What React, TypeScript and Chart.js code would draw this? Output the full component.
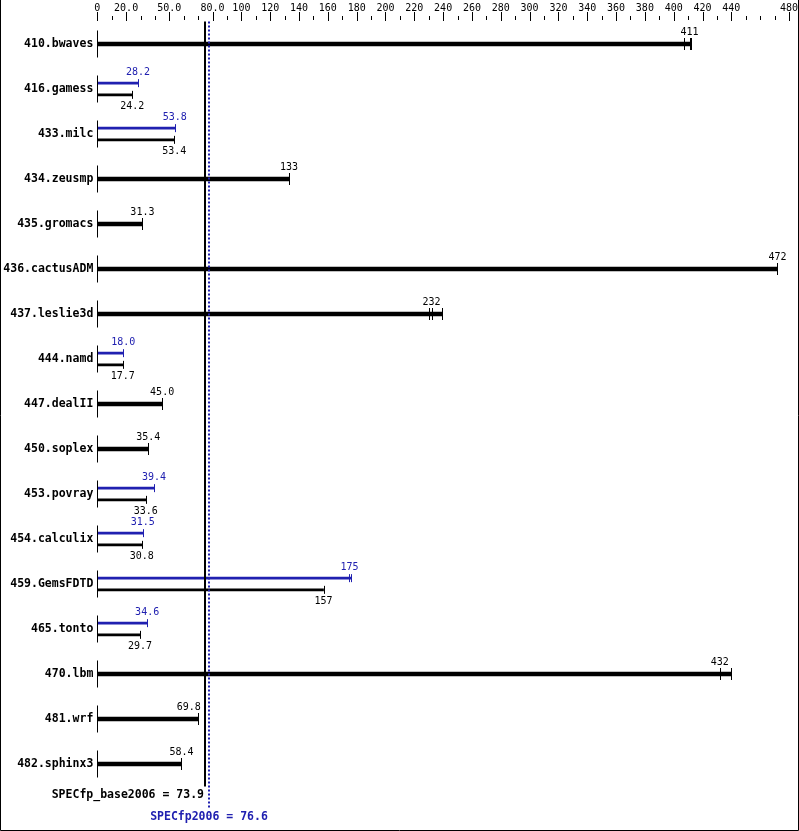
import { useEffect, useRef } from 'react';
import { Chart, registerables } from 'chart.js';

Chart.register(...registerables);

const benchmarks = [
  '410.bwaves', '416.gamess', '433.milc', '434.zeusmp', '435.gromacs', '436.cactusADM',
  '437.leslie3d', '444.namd', '447.dealII', '450.soplex', '453.povray', '454.calculix',
  '459.GemsFDTD', '465.tonto', '470.lbm', '481.wrf', '482.sphinx3',
];
const baseScores = [411, 24.2, 53.4, 133, 31.3, 472, 232, 17.7, 45.0, 35.4, 33.6, 30.8, 157, 29.7, 432, 69.8, 58.4];
const peakScores: (number | null)[] = [null, 28.2, 53.8, null, null, null, null, 18.0, null, null, 39.4, 31.5, 175, 34.6, null, null, null];
const baseRuns: number[][] = [
  [407, 411, 412], [24.2], [53.4], [133], [31.3], [472], [230, 232, 239], [17.7], [45.0],
  [35.4], [33.6], [30.8], [157], [29.7], [432, 440], [69.8], [58.4],
];
const peakRuns: (number[] | null)[] = [
  null, [28.2], [53.8], null, null, null, null, [18.0], null, null, [39.4], [31.5], [175, 176], [34.6], null, null, null,
];
const xLabeledValues = [0, 20, 50, 80, 100, 120, 140, 160, 180, 200, 220, 240, 260, 280, 300, 320, 340, 360, 380, 400, 420, 440, 480];
const xTickLabels = ['0', '20.0', '50.0', '80.0', '100', '120', '140', '160', '180', '200', '220', '240', '260', '280', '300', '320', '340', '360', '380', '400', '420', '440', '480'];
const xTickStep = 10;
const xMax = 480;
const specBase = 73.9;
const specPeak = 76.6;

const BLUE = '#2020b0';
const MONO = '"DejaVu Sans Mono", "Liberation Mono", monospace';
const PAIR_OFFSET = 0.13;

const fmt = (v: number) => (v >= 100 ? String(Math.round(v)) : v.toFixed(1));

export default function App() {
  const ref = useRef<HTMLCanvasElement | null>(null);

  useEffect(() => {
    if (!ref.current) return;

    const singleData: { x: number; y: number }[] = [];
    const peakData: { x: number; y: number }[] = [];
    const basePairData: { x: number; y: number }[] = [];
    benchmarks.forEach((_, i) => {
      const bMax = Math.max(...baseRuns[i]);
      const pr = peakRuns[i];
      if (pr && peakScores[i] != null) {
        peakData.push({ x: Math.max(...pr), y: i - PAIR_OFFSET });
        basePairData.push({ x: bMax, y: i + PAIR_OFFSET });
      } else {
        singleData.push({ x: bMax, y: i });
      }
    });

    const overlay = {
      id: 'specOverlay',
      afterDatasetsDraw(chart: any) {
        const ctx = chart.ctx as CanvasRenderingContext2D;
        const xs = chart.scales.x;
        const ys = chart.scales.y;
        const area = chart.chartArea;
        ctx.save();

        // x-axis tick marks
        ctx.strokeStyle = '#000';
        ctx.lineWidth = 1;
        for (let v = 0; v <= xMax; v += xTickStep) {
          const px = Math.round(xs.getPixelForValue(v)) + 0.5;
          const long = xLabeledValues.includes(v);
          ctx.beginPath();
          ctx.moveTo(px, long ? 12 : 16);
          ctx.lineTo(px, long ? 21 : 20);
          ctx.stroke();
        }

        const x0 = Math.round(xs.getPixelForValue(0)) + 0.5;
        const xBase = xs.getPixelForValue(specBase);
        const xPeak = xs.getPixelForValue(specPeak);

        const drawCaps = (runs: number[], y: number, half: number, color: string) => {
          ctx.strokeStyle = color;
          ctx.lineWidth = 1;
          runs.forEach((r) => {
            const px = Math.round(xs.getPixelForValue(r)) + 0.5;
            ctx.beginPath();
            ctx.moveTo(px, y - half);
            ctx.lineTo(px, y + half);
            ctx.stroke();
          });
        };

        const drawLabel = (v: number, y: number, color: string) => {
          ctx.font = `10px ${MONO}`;
          ctx.fillStyle = color;
          ctx.textBaseline = 'middle';
          const text = fmt(v);
          const w = ctx.measureText(text).width;
          const cx = xs.getPixelForValue(v);
          let left = cx - w / 2;
          let right = cx + w / 2;
          if (right > xBase - 2 && left < xPeak + 2) {
            right = xBase - 3;
            left = right - w;
          }
          ctx.textAlign = 'left';
          ctx.fillText(text, left, y);
        };

        benchmarks.forEach((_, i) => {
          const yc = ys.getPixelForValue(i);
          ctx.strokeStyle = '#000';
          ctx.lineWidth = 1;
          ctx.beginPath();
          ctx.moveTo(x0, yc - 13.5);
          ctx.lineTo(x0, yc + 13.5);
          ctx.stroke();

          const pr = peakRuns[i];
          const ps = peakScores[i];
          if (pr && ps != null) {
            const yp = ys.getPixelForValue(i - PAIR_OFFSET);
            const yb = ys.getPixelForValue(i + PAIR_OFFSET);
            drawCaps(pr, yp, 4, BLUE);
            drawCaps(baseRuns[i], yb, 4, '#000');
            drawLabel(ps, yp - 11, BLUE);
            drawLabel(baseScores[i], yb + 12, '#000');
          } else {
            drawCaps(baseRuns[i], yc, 6, '#000');
            drawLabel(baseScores[i], yc - 12, '#000');
          }
        });

        // summary lines
        ctx.strokeStyle = '#000';
        ctx.lineWidth = 2;
        ctx.beginPath();
        ctx.moveTo(Math.round(xBase) + 1, area.top);
        ctx.lineTo(Math.round(xBase) + 1, area.bottom);
        ctx.stroke();

        ctx.strokeStyle = BLUE;
        ctx.setLineDash([2, 2]);
        ctx.beginPath();
        ctx.moveTo(Math.round(xPeak) + 1, area.top);
        ctx.lineTo(Math.round(xPeak) + 1, area.bottom + 21);
        ctx.stroke();
        ctx.setLineDash([]);

        ctx.font = `bold 11.5px ${MONO}`;
        ctx.textBaseline = 'middle';
        ctx.fillStyle = '#000';
        ctx.textAlign = 'right';
        ctx.fillText(`SPECfp_base2006 = ${specBase.toFixed(1)}`, Math.round(xBase), area.bottom + 9);
        ctx.fillStyle = BLUE;
        ctx.textAlign = 'center';
        ctx.fillText(`SPECfp2006 = ${specPeak.toFixed(1)}`, Math.round(xPeak) + 1, area.bottom + 31);

        // frame
        ctx.strokeStyle = '#000';
        ctx.lineWidth = 1;
        ctx.beginPath();
        ctx.moveTo(0.5, 0);
        ctx.lineTo(0.5, chart.height - 0.5);
        ctx.lineTo(chart.width - 0.5, chart.height - 0.5);
        ctx.lineTo(chart.width - 0.5, 0);
        ctx.stroke();

        ctx.restore();
      },
    };

    const chart = new Chart(ref.current, {
      type: 'bar',
      data: {
        datasets: [
          { label: 'base', data: singleData as any, backgroundColor: '#000', barThickness: 4, grouped: false, borderWidth: 0 } as any,
          { label: 'peak', data: peakData as any, backgroundColor: BLUE, barThickness: 2, grouped: false, borderWidth: 0 } as any,
          { label: 'base2', data: basePairData as any, backgroundColor: '#000', barThickness: 2, grouped: false, borderWidth: 0 } as any,
        ],
      },
      options: {
        indexAxis: 'y',
        responsive: false,
        animation: false,
        events: [],
        layout: { padding: { left: 0, right: 4, top: 0, bottom: 44.5 } },
        plugins: { legend: { display: false }, tooltip: { enabled: false } },
        scales: {
          x: {
            type: 'linear',
            position: 'top',
            min: 0,
            max: xMax,
            offset: false,
            grid: { display: false, drawTicks: true, tickLength: 6 },
            border: { display: false },
            afterBuildTicks: (scale: any) => {
              const t = [];
              for (let v = 0; v <= xMax; v += xTickStep) t.push({ value: v });
              scale.ticks = t;
            },
            afterFit: (scale: any) => {
              scale.height = 21.5;
            },
            ticks: {
              autoSkip: false,
              maxRotation: 0,
              padding: 1,
              color: '#000',
              font: { family: MONO, size: 10 },
              callback: (v: any) => {
                const k = xLabeledValues.indexOf(Number(v));
                return k >= 0 ? xTickLabels[k] : '';
              },
            },
          },
          y: {
            type: 'linear',
            reverse: true,
            offset: false,
            min: -0.5,
            max: benchmarks.length - 0.5,
            grid: { display: false, drawTicks: false, offset: false },
            border: { display: false },
            afterBuildTicks: (scale: any) => {
              scale.ticks = benchmarks.map((_, i) => ({ value: i }));
            },
            afterFit: (scale: any) => {
              scale.width = 97.3;
            },
            ticks: {
              autoSkip: false,
              padding: 4,
              color: '#000',
              font: { family: MONO, size: 11.5, weight: 'bold' },
              callback: (v: any) => benchmarks[Number(v)] ?? '',
            },
          },
        },
      },
      plugins: [overlay],
    });

    return () => chart.destroy();
  }, []);

  return (
    <div style={{ position: 'absolute', left: 0, top: 0, width: 799, height: 831, background: '#fff' }}>
      <canvas ref={ref} width={799} height={831} style={{ width: 799, height: 831, display: 'block' }} />
    </div>
  );
}
